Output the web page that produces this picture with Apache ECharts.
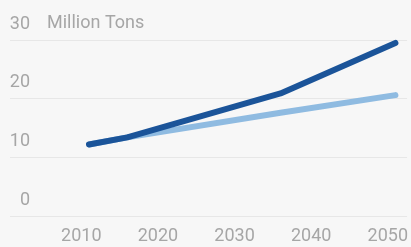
<!DOCTYPE html>
<html>
<head>
<meta charset="utf-8">
<script src="https://cdn.jsdelivr.net/npm/echarts@6/dist/echarts.min.js"></script>
<style>
  html, body { margin: 0; padding: 0; background: #f7f7f7; }
  #chart { width: 411px; height: 247px; }
</style>
</head>
<body>
<div id="chart"></div>
<script>
const yearTicks = [2010, 2020, 2030, 2040, 2050];
const valueTicks = [0, 10, 20, 30];
const highYears = [2011, 2016, 2036, 2051];
const highValues = [12.2, 13.4, 20.9, 29.5];
const lowYears = [2011, 2016, 2036, 2051];
const lowValues = [12.2, 13.4, 17.6, 20.6];
const unitLabel = "Million Tons";

const font = "Roboto, sans-serif";
const grey = "#a6a6a6";

const chart = echarts.init(document.getElementById("chart"));

function pairs(xs, ys) {
  return xs.map((x, i) => [x, ys[i]]);
}

chart.setOption({
  backgroundColor: "#f7f7f7",
  animation: false,
  grid: { left: 10, right: 0, top: 40, bottom: 31 },
  xAxis: {
    type: "value",
    min: 2000.69,
    max: 2052.52,
    axisLine: { show: false },
    axisTick: { show: false },
    splitLine: { show: false },
    axisLabel: {
      customValues: yearTicks,
      formatter: (v) => String(v),
      color: grey,
      fontFamily: font,
      fontSize: 18,
      lineHeight: 18,
      margin: 11,
    },
  },
  yAxis: {
    type: "value",
    min: valueTicks[0],
    max: valueTicks[valueTicks.length - 1],
    interval: 10,
    name: unitLabel,
    nameLocation: "end",
    nameGap: 17,
    nameTextStyle: {
      color: grey,
      fontFamily: font,
      fontSize: 18,
      align: "left",
      verticalAlign: "middle",
      padding: [0, 0, 0, 37],
    },
    axisLine: { show: false },
    axisTick: { show: false },
    axisLabel: {
      inside: true,
      margin: 20,
      align: "right",
      verticalAlign: "bottom",
      lineHeight: 18,
      padding: [0, 0, 7, 0],
      color: grey,
      fontFamily: font,
      fontSize: 18,
    },
    splitLine: { lineStyle: { color: "#e7e7e7", width: 1 } },
  },
  series: [
    {
      type: "line",
      data: pairs(lowYears, lowValues),
      showSymbol: false,
      z: 2,
      lineStyle: { color: "#8fbbe1", width: 6, cap: "round", join: "round" },
    },
    {
      type: "line",
      data: pairs(highYears, highValues),
      showSymbol: false,
      z: 3,
      lineStyle: { color: "#1b5499", width: 6, cap: "round", join: "round" },
    },
  ],
});
</script>
</body>
</html>
